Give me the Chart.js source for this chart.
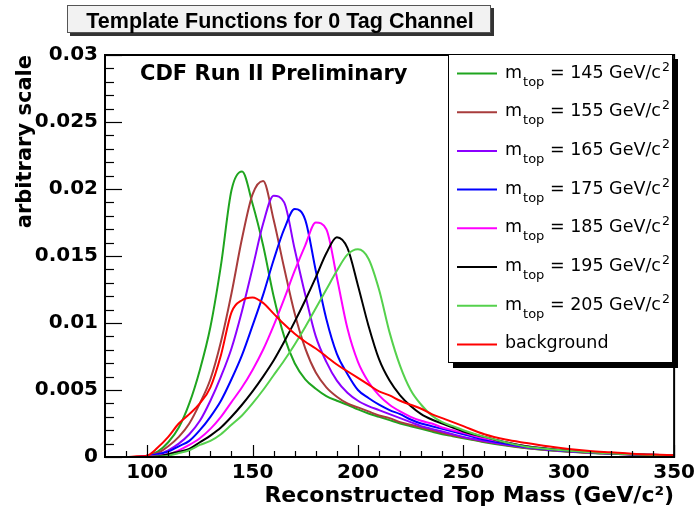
<!DOCTYPE html>
<html>
<head>
<meta charset="utf-8">
<title>Template Functions for 0 Tag Channel</title>
<script src="https://cdn.jsdelivr.net/npm/chart.js@4.4.1/dist/chart.umd.min.js"></script>
<style>
  html, body { margin: 0; padding: 0; background: #fff; }
  #area { width: 699px; height: 519px; }
</style>
</head>
<body>
<div id="area"><canvas id="graficoTemplates" width="699" height="519"></canvas></div>
<script>
// Massa reconstruída (GeV/c^2) onde cada template foi amostrado
const massa = [80, 90, 95, 100, 105, 110, 115, 120, 125, 130, 135, 140, 145, 150, 155, 160, 165, 170, 175, 180,
  185, 190, 195, 200, 205, 210, 215, 220, 225, 230, 235, 240, 245, 250, 260, 270, 280, 290, 300, 310, 320, 330, 340, 350];

// Templates de sinal, um por massa do top gerada
const m145 = [0, 0, 0, 0.0001, 0.0004, 0.0011, 0.0022, 0.0040, 0.0065, 0.0097, 0.0143, 0.0199, 0.0213, 0.0189, 0.0158, 0.0120, 0.0090, 0.0070, 0.0058, 0.0051,
  0.00455, 0.0042, 0.0039, 0.00355, 0.00325, 0.0030, 0.00275, 0.0025, 0.0023, 0.0021, 0.0019, 0.0017, 0.00155, 0.0014, 0.0011, 0.00085, 0.00065, 0.0005, 0.0004, 0.0003, 0.00024, 0.00018, 0.00014, 0.0001];
const m155 = [0, 0, 0, 0.0001, 0.0003, 0.0008, 0.0015, 0.0025, 0.0040, 0.0058, 0.0086, 0.0122, 0.0163, 0.0196, 0.0206, 0.0177, 0.0141, 0.0107, 0.0081, 0.0063,
  0.0052, 0.0045, 0.0040, 0.0037, 0.0034, 0.0031, 0.0029, 0.0026, 0.0024, 0.0022, 0.0020, 0.0018, 0.0016, 0.00145, 0.00115, 0.0009, 0.00068, 0.00052, 0.0004, 0.00031, 0.00024, 0.00019, 0.00014, 0.0001];
const m165 = [0, 0, 0, 0.0001, 0.0002, 0.0005, 0.0010, 0.0017, 0.0027, 0.0042, 0.0060, 0.0081, 0.0109, 0.0141, 0.0174, 0.0195, 0.0190, 0.0155, 0.0121, 0.0090,
  0.0071, 0.0057, 0.0048, 0.0042, 0.0038, 0.0035, 0.0032, 0.0029, 0.0026, 0.0023, 0.0021, 0.0019, 0.0017, 0.0015, 0.0012, 0.00093, 0.0007, 0.00054, 0.00042, 0.00032, 0.00025, 0.00019, 0.00014, 0.0001];
const m175 = [0, 0, 0, 0.00005, 0.0002, 0.0004, 0.0008, 0.0012, 0.0020, 0.0030, 0.0042, 0.0058, 0.0076, 0.0098, 0.0121, 0.0147, 0.0170, 0.0185, 0.0177, 0.0139,
  0.0103, 0.0077, 0.0062, 0.0050, 0.0044, 0.0039, 0.0035, 0.0032, 0.0028, 0.0025, 0.0023, 0.0021, 0.0019, 0.0017, 0.0013, 0.0010, 0.00075, 0.00058, 0.00045, 0.00035, 0.00027, 0.0002, 0.00015, 0.00011];
const m185 = [0, 0, 0, 0.00003, 0.0001, 0.0002, 0.0005, 0.0009, 0.0014, 0.0021, 0.0030, 0.0041, 0.0052, 0.0065, 0.0080, 0.0098, 0.0118, 0.0139, 0.0158, 0.0175,
  0.0170, 0.0134, 0.0096, 0.0071, 0.0056, 0.0046, 0.0039, 0.0034, 0.0030, 0.0027, 0.0025, 0.0022, 0.0020, 0.0018, 0.0014, 0.0011, 0.0008, 0.00062, 0.00048, 0.00037, 0.00028, 0.00021, 0.00016, 0.00011];
const m195 = [0, 0, 0, 0, 0.00005, 0.0002, 0.0004, 0.0006, 0.0011, 0.0016, 0.0022, 0.0030, 0.0039, 0.0049, 0.0060, 0.0072, 0.0086, 0.0101, 0.0117, 0.0134,
  0.0152, 0.0164, 0.0156, 0.0128, 0.0098, 0.0073, 0.0057, 0.0046, 0.0038, 0.0032, 0.0028, 0.0025, 0.0022, 0.0019, 0.0015, 0.0011, 0.0008, 0.00062, 0.00048, 0.00037, 0.00028, 0.00021, 0.00016, 0.00011];
const m205 = [0, 0, 0, 0, 0.00003, 0.0001, 0.0003, 0.0005, 0.0009, 0.0012, 0.0017, 0.0024, 0.0031, 0.0040, 0.0050, 0.0061, 0.0072, 0.0084, 0.0097, 0.0111,
  0.0125, 0.0139, 0.0151, 0.0155, 0.0148, 0.0125, 0.0093, 0.0068, 0.0050, 0.0039, 0.0031, 0.0026, 0.0023, 0.0020, 0.0015, 0.0011, 0.00077, 0.0006, 0.00046, 0.00036, 0.00027, 0.0002, 0.00015, 0.00011];

// Template do fundo
const fundo = [0, 0, 0.00005, 0.0001, 0.0007, 0.0015, 0.0025, 0.0032, 0.0040, 0.0052, 0.0076, 0.0108, 0.0117, 0.0119, 0.0115, 0.0107, 0.0099, 0.0092, 0.0086, 0.0081,
  0.0075, 0.0069, 0.0064, 0.0059, 0.0054, 0.0049, 0.0046, 0.0042, 0.0039, 0.0036, 0.0032, 0.0029, 0.0026, 0.0023, 0.0017, 0.0013, 0.00104, 0.0008, 0.0006, 0.00045, 0.00035, 0.00025, 0.00018, 0.00013];

const massasTop = [145, 155, 165, 175, 185, 195, 205];
const sinais = [m145, m155, m165, m175, m185, m195, m205];
const coresSinal = ['#1fa51f', '#a83c3c', '#8c00ff', '#0000ff', '#ff00ff', '#000000', '#55d14c'];
const corFundo = '#ff0000';

const ticksX = [100, 150, 200, 250, 300, 350];
const ticksY = [0, 0.005, 0.01, 0.015, 0.02, 0.025, 0.03];

const FONTE_LARGA = 'DejaVu Sans';

function pontos(valores) {
    return massa.map((m, i) => ({ x: m, y: valores[i] }));
}

// Moldura estilo ROOT com ticks para dentro
const moldura = {
    id: 'moldura',
    afterDatasetsDraw(chart) {
        const { ctx, chartArea: a, scales: { x, y } } = chart;
        ctx.save();
        ctx.strokeStyle = '#000';
        ctx.lineWidth = 1.2;
        for (let i = 0; i <= 30; i++) {
            const py = Math.round(y.getPixelForValue(i / 1000)) + 0.5;
            const len = i % 5 === 0 ? 17 : 9;
            ctx.beginPath();
            ctx.moveTo(a.left, py);
            ctx.lineTo(a.left + len, py);
            ctx.stroke();
        }
        for (let m = 90; m <= 350; m += 10) {
            const px = Math.round(x.getPixelForValue(m)) + 0.5;
            const len = m % 50 === 0 ? 12 : 6;
            ctx.beginPath();
            ctx.moveTo(px, a.bottom);
            ctx.lineTo(px, a.bottom - len);
            ctx.stroke();
        }
        ctx.lineWidth = 2;
        ctx.strokeRect(a.left, a.top, a.right - a.left, a.bottom - a.top);
        ctx.restore();
    },
    afterDraw(chart) {
        const { ctx } = chart;
        ctx.save();

        // caixa do título
        ctx.fillStyle = '#333';
        ctx.fillRect(70, 8, 424, 28);
        ctx.fillStyle = '#f2f2f2';
        ctx.fillRect(67, 5, 424, 28);
        ctx.strokeStyle = '#555';
        ctx.lineWidth = 1;
        ctx.strokeRect(67.5, 5.5, 423, 27);
        ctx.fillStyle = '#000';
        ctx.font = 'bold 21.5px "Liberation Sans", Arial, sans-serif';
        ctx.textAlign = 'center';
        ctx.textBaseline = 'alphabetic';
        ctx.fillText('Template Functions for 0 Tag Channel', 280, 28);

        // rótulo do experimento
        ctx.textAlign = 'left';
        ctx.font = 'bold 21px "' + FONTE_LARGA + '"';
        ctx.fillText('CDF Run II Preliminary', 140, 80);

        // legenda
        const lx = 448, ly = 54, lw = 225, lh = 309;
        ctx.fillStyle = '#000';
        ctx.fillRect(lx + 5, ly + 5, lw, lh);
        ctx.fillStyle = '#fff';
        ctx.fillRect(lx, ly, lw, lh);
        ctx.strokeStyle = '#000';
        ctx.lineWidth = 1;
        ctx.strokeRect(lx + 0.5, ly + 0.5, lw - 1, lh - 1);

        chart.data.datasets.forEach((ds, i) => {
            const yy = 73.5 + i * 38.7;
            ctx.strokeStyle = ds.borderColor;
            ctx.lineWidth = 2;
            ctx.beginPath();
            ctx.moveTo(457, yy);
            ctx.lineTo(497, yy);
            ctx.stroke();

            ctx.fillStyle = '#000';
            let tx = 505;
            const base = yy + 4;
            if (i < massasTop.length) {
                ctx.font = '17.5px "' + FONTE_LARGA + '"';
                ctx.fillText('m', tx, base);
                tx += ctx.measureText('m').width + 1;
                ctx.font = '13px "' + FONTE_LARGA + '"';
                ctx.fillText('top', tx, base + 8);
                tx += ctx.measureText('top').width;
                ctx.font = '17.5px "' + FONTE_LARGA + '"';
                const resto = ' = ' + massasTop[i] + ' GeV/c';
                ctx.fillText(resto, tx, base);
                tx += ctx.measureText(resto).width + 1;
                ctx.font = '12.5px "' + FONTE_LARGA + '"';
                ctx.fillText('2', tx, base - 7);
            } else {
                ctx.font = '17.5px "' + FONTE_LARGA + '"';
                ctx.fillText('background', tx, base);
            }
        });
        ctx.restore();
    }
};

function inicializarGrafico() {
    const elementoCanvas = document.getElementById('graficoTemplates');
    if (!elementoCanvas) return;

    const datasets = sinais.map((valores, i) => ({
        label: 'm_top = ' + massasTop[i] + ' GeV/c²',
        data: pontos(valores),
        borderColor: coresSinal[i],
        order: 20 - i
    }));
    datasets.push({
        label: 'background',
        data: pontos(fundo),
        borderColor: corFundo,
        order: 1
    });

    const fonteEixo = { family: FONTE_LARGA, weight: 'bold', size: 20 };

    new Chart(elementoCanvas.getContext('2d'), {
        type: 'line',
        data: { datasets },
        options: {
            responsive: false,
            animation: false,
            layout: { padding: { top: 55, right: 22, left: 0, bottom: 0 } },
            elements: {
                point: { radius: 0 },
                line: { borderWidth: 2, cubicInterpolationMode: 'monotone', fill: false }
            },
            plugins: {
                legend: { display: false },
                tooltip: { enabled: false },
                title: { display: false }
            },
            scales: {
                x: {
                    type: 'linear',
                    min: 80,
                    max: 350,
                    afterBuildTicks: (s) => { s.ticks = ticksX.map(v => ({ value: v })); },
                    afterFit: (s) => { s.height = 62; },
                    grid: { display: false, drawTicks: false },
                    border: { display: false },
                    ticks: { font: fonteEixo, color: '#000', padding: 4, maxRotation: 0, autoSkip: false, callback: v => String(v) },
                    title: {
                        display: true,
                        text: 'Reconstructed Top Mass (GeV/c²)',
                        align: 'end',
                        color: '#000',
                        font: { family: FONTE_LARGA, weight: 'bold', size: 22 },
                        padding: { top: 0, bottom: 10 }
                    }
                },
                y: {
                    type: 'linear',
                    min: 0,
                    max: 0.03,
                    afterBuildTicks: (s) => { s.ticks = ticksY.map(v => ({ value: v })); },
                    afterFit: (s) => { s.width = 105; },
                    grid: { display: false, drawTicks: false },
                    border: { display: false },
                    ticks: { font: fonteEixo, color: '#000', padding: 7, autoSkip: false, callback: v => String(v) },
                    title: {
                        display: true,
                        text: 'arbitrary scale',
                        align: 'end',
                        color: '#000',
                        font: { family: FONTE_LARGA, weight: 'bold', size: 21 },
                        padding: { top: 13, bottom: 0 }
                    }
                }
            }
        },
        plugins: [moldura]
    });
}

document.addEventListener('DOMContentLoaded', inicializarGrafico);
</script>
</body>
</html>
